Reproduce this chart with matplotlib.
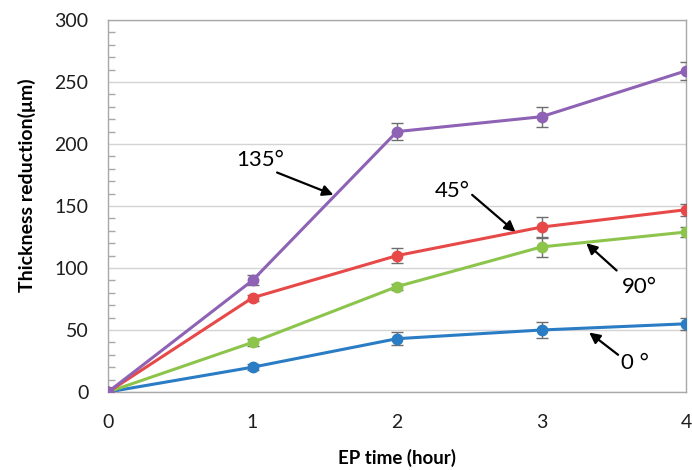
import matplotlib as mpl
import matplotlib.pyplot as plt

mpl.rcParams["font.family"] = ["Lato", "DejaVu Sans"]

# EP time in hours
hours = [0, 1, 2, 3, 4]

# thickness reduction (um) and error bars for each angle
deg0 = [0, 20, 43, 50, 55]
deg0_err = [0, 2.5, 5, 6.5, 5]
deg90 = [0, 40, 85, 117, 129]
deg90_err = [0, 3, 2.5, 8, 4]
deg45 = [0, 76, 110, 133, 147]
deg45_err = [0, 2.5, 6, 8.5, 5]
deg135 = [0, 90, 210, 222, 259]
deg135_err = [0, 4, 7, 8, 7.5]

series = [
    (deg0, deg0_err, "#2a7cc4"),
    (deg90, deg90_err, "#8cc44c"),
    (deg45, deg45_err, "#e74848"),
    (deg135, deg135_err, "#8e62b4"),
]

fig = plt.figure(figsize=(6.92, 4.70), dpi=100)
ax = fig.add_axes([108 / 692, 78 / 470, 578 / 692, 372 / 470])

for vals, err, col in series:
    ax.errorbar(hours, vals, yerr=err, color=col, linewidth=2.2, marker="o",
                markersize=7.5, ecolor="#6e6e6e", elinewidth=1, capsize=4,
                capthick=1, zorder=3)

ax.set_xlim(0, 4)
ax.set_ylim(0, 300)
ax.set_xticks(hours)
ax.set_yticks(range(0, 301, 50))
ax.set_yticks(range(0, 301, 10), minor=True)
ax.grid(axis="y", color="#d4d4d4", linewidth=1)
ax.set_axisbelow(True)
for sp in ax.spines.values():
    sp.set_color("#a8a8a8")
    sp.set_linewidth(1)
ax.tick_params(axis="x", length=0, pad=16, labelsize=14)
ax.tick_params(axis="y", which="major", length=0, pad=14, labelsize=14)
ax.tick_params(axis="y", which="minor", direction="in", length=5,
               color="#a8a8a8", width=1)
for lab in ax.get_xticklabels() + ax.get_yticklabels():
    lab.set_color("#1e1e1e")

ax.set_xlabel("EP time (hour)", fontsize=13.5, fontweight="bold", labelpad=13)
ax.set_ylabel("Thickness reduction(μm)", fontsize=14, fontweight="bold")
ax.yaxis.set_label_coords(-0.125, 0.555)

arrow = dict(arrowstyle="-|>", color="black", lw=1.6, mutation_scale=16,
             shrinkA=0, shrinkB=0)
ax.annotate("", xy=(1.56, 159), xytext=(1.17, 177), arrowprops=arrow)
ax.text(1.05, 187, "135°", fontsize=16, ha="center", va="center")
ax.annotate("", xy=(2.82, 129), xytext=(2.52, 159), arrowprops=arrow)
ax.text(2.38, 162, "45°", fontsize=16, ha="center", va="center")
ax.annotate("", xy=(3.31, 120), xytext=(3.52, 98), arrowprops=arrow)
ax.text(3.68, 85, "90°", fontsize=16, ha="center", va="center")
ax.annotate("", xy=(3.33, 48), xytext=(3.53, 30), arrowprops=arrow)
ax.text(3.65, 23, "0 °", fontsize=16, ha="center", va="center")

fig.savefig("out.png", dpi=100)
